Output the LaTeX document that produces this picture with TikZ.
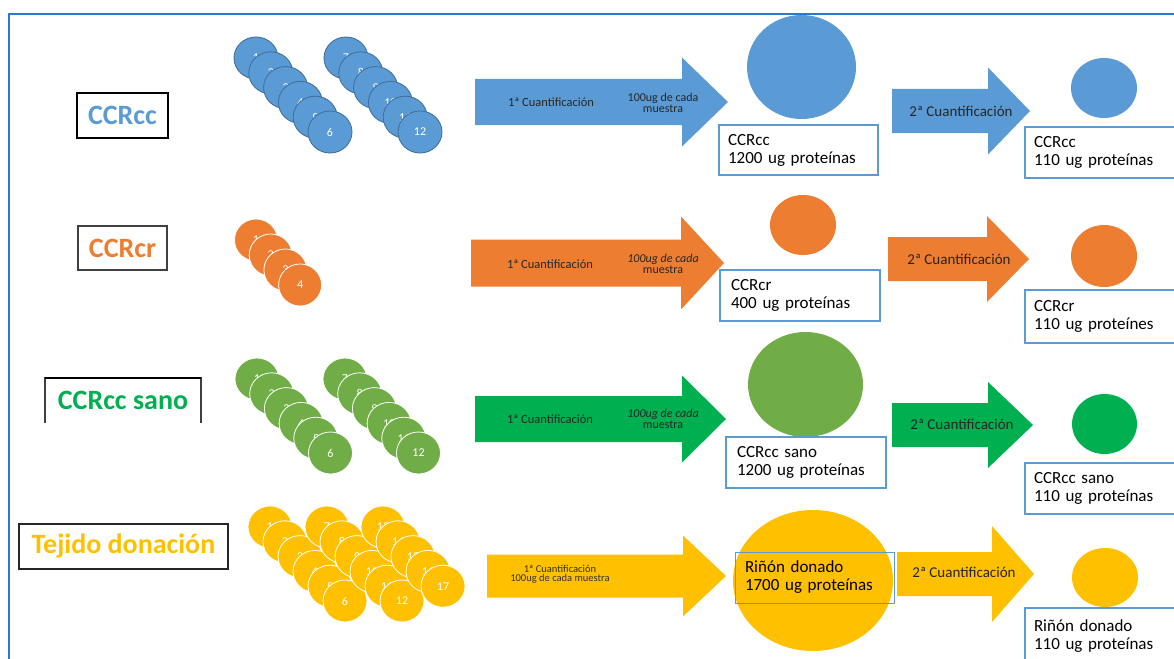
\documentclass[tikz,border=0pt]{standalone}
\usepackage{fontspec}
\setmainfont{Carlito}
\usetikzlibrary{shapes.geometric}

\definecolor{cblue}{HTML}{5B9BD5}
\definecolor{cblueline}{HTML}{41719C}
\definecolor{corange}{HTML}{ED7D31}
\definecolor{cgreenl}{HTML}{70AD47}
\definecolor{cgreen}{HTML}{00B050}
\definecolor{cyellow}{HTML}{FFC000}
\definecolor{frameblue}{HTML}{2F78CF}
\definecolor{boxgray}{HTML}{404040}

\newcommand\fsz[1]{\fontsize{#1}{#1}\selectfont}
% block arrow: colour, x start, x head, x tip, y centre, body half height, head half height
\newcommand\blockarrow[7]{%
  \fill[#1] (#2,#5-#6) -- (#3,#5-#6) -- (#3,#5-#7) -- (#4,#5)
    -- (#3,#5+#7) -- (#3,#5+#6) -- (#2,#5+#6) -- cycle;}

\tikzset{
  grouplabel/.style={rectangle, draw=#1, line width=2pt, inner sep=0pt,
    font=\fsz{28}\bfseries},
  sample/.style={ellipse, inner sep=0pt, minimum width=44pt, minimum height=42pt,
    text=white, font=\fsz{12}},
  bluesample/.style={sample, fill=cblue, draw=cblueline, line width=0.9pt},
  paintsample/.style={sample, fill=#1, draw=white, line width=0.8pt},
  pool/.style={ellipse, inner sep=0pt, draw=none},
  result/.style={rectangle, draw=cblue, line width=1.5pt, align=left,
    font=\fsz{17}, inner sep=0pt, anchor=center},
  steptext/.style={font=\fsz{12.5}, text=black!85, inner sep=0pt},
  notetext/.style={font=\fsz{12}, text=black!85, inner sep=0pt, align=center},
  secondtext/.style={font=\fsz{15}, text=black!85, inner sep=0pt},
}

\begin{document}
\begin{tikzpicture}[x=1pt, y=-1pt]
\useasboundingbox (0,0) rectangle (1174,658);
\clip (0,0) rectangle (1174,658);

% outer frame
\draw[frameblue, line width=2pt] (9,670) -- (9,14) -- (1180,14);

% ---------------- group labels ----------------
\node[grouplabel=black, text=cblue, minimum width=91pt, minimum height=45pt]
  (lab1) at (122.5,115.5) {CCRcc};
\node[grouplabel=boxgray, text=corange, minimum width=89pt, minimum height=44pt]
  (lab2) at (122.5,248) {CCRcr};
\node[rectangle, inner sep=0pt, text=cgreen, font=\fsz{28}\bfseries,
  minimum width=156pt, minimum height=45pt] (lab3) at (123,400.5) {CCRcc sano};
\draw[boxgray, line width=2pt] (lab3.south west) |- (lab3.north east) -- (lab3.south east);
\draw[black, line width=2pt] (lab3.north west) -- (lab3.north east);
\node[grouplabel=black!85, text=cyellow, minimum width=209pt, minimum height=45pt]
  (lab4) at (123.5,546.5) {Tejido donación};

% ---------------- samples ----------------
\foreach \i in {0,...,5} {
  \pgfmathtruncatemacro\n{\i+1}
  \node[bluesample] (s1a\n) at (256+14.8*\i, 58+14.8*\i) {\n};
}
\foreach \i in {0,...,5} {
  \pgfmathtruncatemacro\n{\i+7}
  \node[bluesample] (s1b\n) at (346+14.8*\i, 58+14.8*\i) {\n};
}
\foreach \i in {0,...,3} {
  \pgfmathtruncatemacro\n{\i+1}
  \node[paintsample=corange, minimum width=43pt] (s2\n) at (256+14.7*\i, 240+15*\i) {\n};
}
\foreach \i in {0,...,5} {
  \pgfmathtruncatemacro\n{\i+1}
  \node[paintsample=cgreenl] (s3a\n) at (257+14.7*\i, 379+14.8*\i) {\n};
}
\foreach \i in {0,...,5} {
  \pgfmathtruncatemacro\n{\i+7}
  \node[paintsample=cgreenl] (s3b\n) at (345+14.7*\i, 379+14.8*\i) {\n};
}
\foreach \i in {0,...,5} {
  \pgfmathtruncatemacro\n{\i+1}
  \node[paintsample=cyellow] (s4a\n) at (270+15*\i, 527+14.8*\i) {\n};
}
\foreach \i in {0,...,5} {
  \pgfmathtruncatemacro\n{\i+7}
  \node[paintsample=cyellow] (s4b\n) at (327+15*\i, 527+14.8*\i) {\n};
}
\foreach \i in {0,...,4} {
  \pgfmathtruncatemacro\n{\i+13}
  \node[paintsample=cyellow] (s4c\n) at (383+15*\i, 527+14.8*\i) {\n};
}

% ---------------- first quantification arrows ----------------
\blockarrow{cblue}{475}{682}{728}{102}{23}{44.5}
\node[steptext] (q1a) at (551,102) {1ª Cuantificación};
\node[notetext] (n1a) at (663,103) {100ug de cada\\[-1pt]muestra};

\blockarrow{corange}{471}{681}{724}{263}{23.5}{46.5}
\node[steptext] (q1b) at (550,264) {1ª Cuantificación};
\node[notetext] (n1b) at (663,264) {\itshape 100ug de cada\\[-1pt]muestra};

\blockarrow{cgreen}{475}{682}{726}{419}{23}{43.5}
\node[steptext] (q1c) at (550,419) {1ª Cuantificación};
\node[notetext] (n1c) at (663,419) {\itshape 100ug de cada\\[-1pt]muestra};

\blockarrow{cyellow}{487}{683}{726}{576}{21.5}{40.5}
\node[notetext, font=\fsz{10.5}, text=black!80] (q1d) at (560,574.5)
  {1ª Cuantificación\\[-2pt]100ug de cada muestra};

% ---------------- pooled samples ----------------
\node[pool, fill=cblue, minimum width=109pt, minimum height=104pt] (p1) at (801.5,67) {};
\node[pool, fill=corange, minimum width=66pt, minimum height=60pt] (p2) at (803,225) {};
\node[pool, fill=cgreenl, minimum width=115pt, minimum height=105pt] (p3) at (805.5,384.5) {};
\node[pool, fill=cyellow, minimum width=160pt, minimum height=141pt] (p4) at (813,580.5) {};

\node[result, minimum width=159pt, minimum height=50pt, text width=141pt] (r1) at (798.5,150)
  {CCRcc\\[1pt]1200 ug proteínas};
\node[result, minimum width=160pt, minimum height=51pt, text width=138pt] (r2) at (800,295.5)
  {CCRcr\\[1pt]400 ug proteínas};
\node[result, minimum width=160pt, minimum height=51pt, text width=138pt] (r3) at (806,462.5)
  {CCRcc sano\\[1pt]1200 ug proteínas};
\node[result, line width=1pt, minimum width=159pt, minimum height=51pt, text width=139pt] (r4) at (814.5,577.5)
  {Riñón donado\\[1pt]1700 ug proteínas};

% ---------------- second quantification arrows ----------------
\blockarrow{cblue}{892}{988}{1030}{111}{22}{43.5}
\node[secondtext] (q2a) at (961,111) {2ª Cuantificación};
\blockarrow{corange}{888}{987}{1029}{259}{22}{43}
\node[secondtext] (q2b) at (959,259) {2ª Cuantificación};
\blockarrow{cgreen}{892}{988}{1033}{425}{22}{43}
\node[secondtext] (q2c) at (962,424) {2ª Cuantificación};
\blockarrow{cyellow}{897}{992}{1034}{574}{22}{48}
\node[secondtext] (q2d) at (964,572) {2ª Cuantificación};

% ---------------- final aliquots ----------------
\node[pool, fill=cblue, minimum width=66pt, minimum height=60pt] (f1) at (1104,88) {};
\node[pool, fill=corange, minimum width=66pt, minimum height=62pt] (f2) at (1104,256) {};
\node[pool, fill=cgreen, minimum width=65pt, minimum height=60pt] (f3) at (1104.5,424) {};
\node[pool, fill=cyellow, minimum width=66pt, minimum height=59pt] (f4) at (1105,577.5) {};

\node[result, minimum width=170pt, minimum height=51pt, text width=152pt] (g1) at (1110,152.5)
  {CCRcc\\[1pt]110 ug proteínas};
\node[result, minimum width=170pt, minimum height=53pt, text width=152pt] (g2) at (1110,316.5)
  {CCRcr\\[1pt]110 ug proteínes};
\node[result, minimum width=170pt, minimum height=51pt, text width=152pt] (g3) at (1110,488.5)
  {CCRcc sano\\[1pt]110 ug proteínas};
\node[result, minimum width=170pt, minimum height=57pt, text width=152pt] (g4) at (1110,636.5)
  {Riñón donado\\[1pt]110 ug proteínas};

\end{tikzpicture}
\end{document}
